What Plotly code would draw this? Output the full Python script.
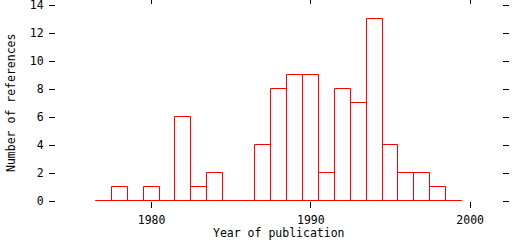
import plotly.graph_objects as go

years = list(range(1977, 2000))
counts = [0, 1, 0, 1, 0, 6, 1, 2, 0, 0, 4, 8, 9, 9, 2, 8, 7, 13, 4, 2, 2, 1, 0]
x_ticks = [1980, 1990, 2000]
y_ticks = [0, 2, 4, 6, 8, 10, 12, 14]
x_title = "Year of publication"
y_title = "Number of references"

RED = "#ff0000"
FONT = dict(family="DejaVu Sans Mono", size=11.5, color="black")

fig = go.Figure()
fig.add_trace(go.Bar(
    x=years, y=counts, width=1,
    marker=dict(color="white", line=dict(color=RED, width=1)),
    showlegend=False, hoverinfo="skip",
))
fig.add_trace(go.Scatter(
    x=[years[0] - 0.5, years[-1] + 0.5], y=[0, 0],
    mode="lines", line=dict(color=RED, width=1),
    showlegend=False, hoverinfo="skip",
))

axis_common = dict(
    showgrid=False, zeroline=False, showline=True,
    linecolor="rgba(0,0,0,0)", mirror="ticks",
    ticks="outside", ticklen=6, tickwidth=1, tickcolor="black",
    tickfont=FONT, automargin=False, ticklabeloverflow="allow",
)

fig.update_layout(
    width=512, height=240,
    margin=dict(l=56, r=10, t=5, b=39),
    paper_bgcolor="white", plot_bgcolor="white",
    font=FONT,
    bargap=0,
    xaxis=dict(range=[1974, 2002], tickvals=x_ticks, ticklabelstandoff=2,
               **axis_common),
    yaxis=dict(range=[0, 14], tickvals=y_ticks, ticklabelstandoff=3,
               **axis_common),
    annotations=[
        dict(text=x_title, xref="paper", yref="paper", x=0.5, y=0,
             xanchor="center", yanchor="middle", yshift=-32,
             showarrow=False, font=FONT),
        dict(text=y_title, xref="paper", yref="paper", x=0, y=0.5,
             xanchor="center", yanchor="middle", xshift=-45, textangle=-90,
             showarrow=False, font=FONT),
    ],
)

fig.write_html("out.html")
